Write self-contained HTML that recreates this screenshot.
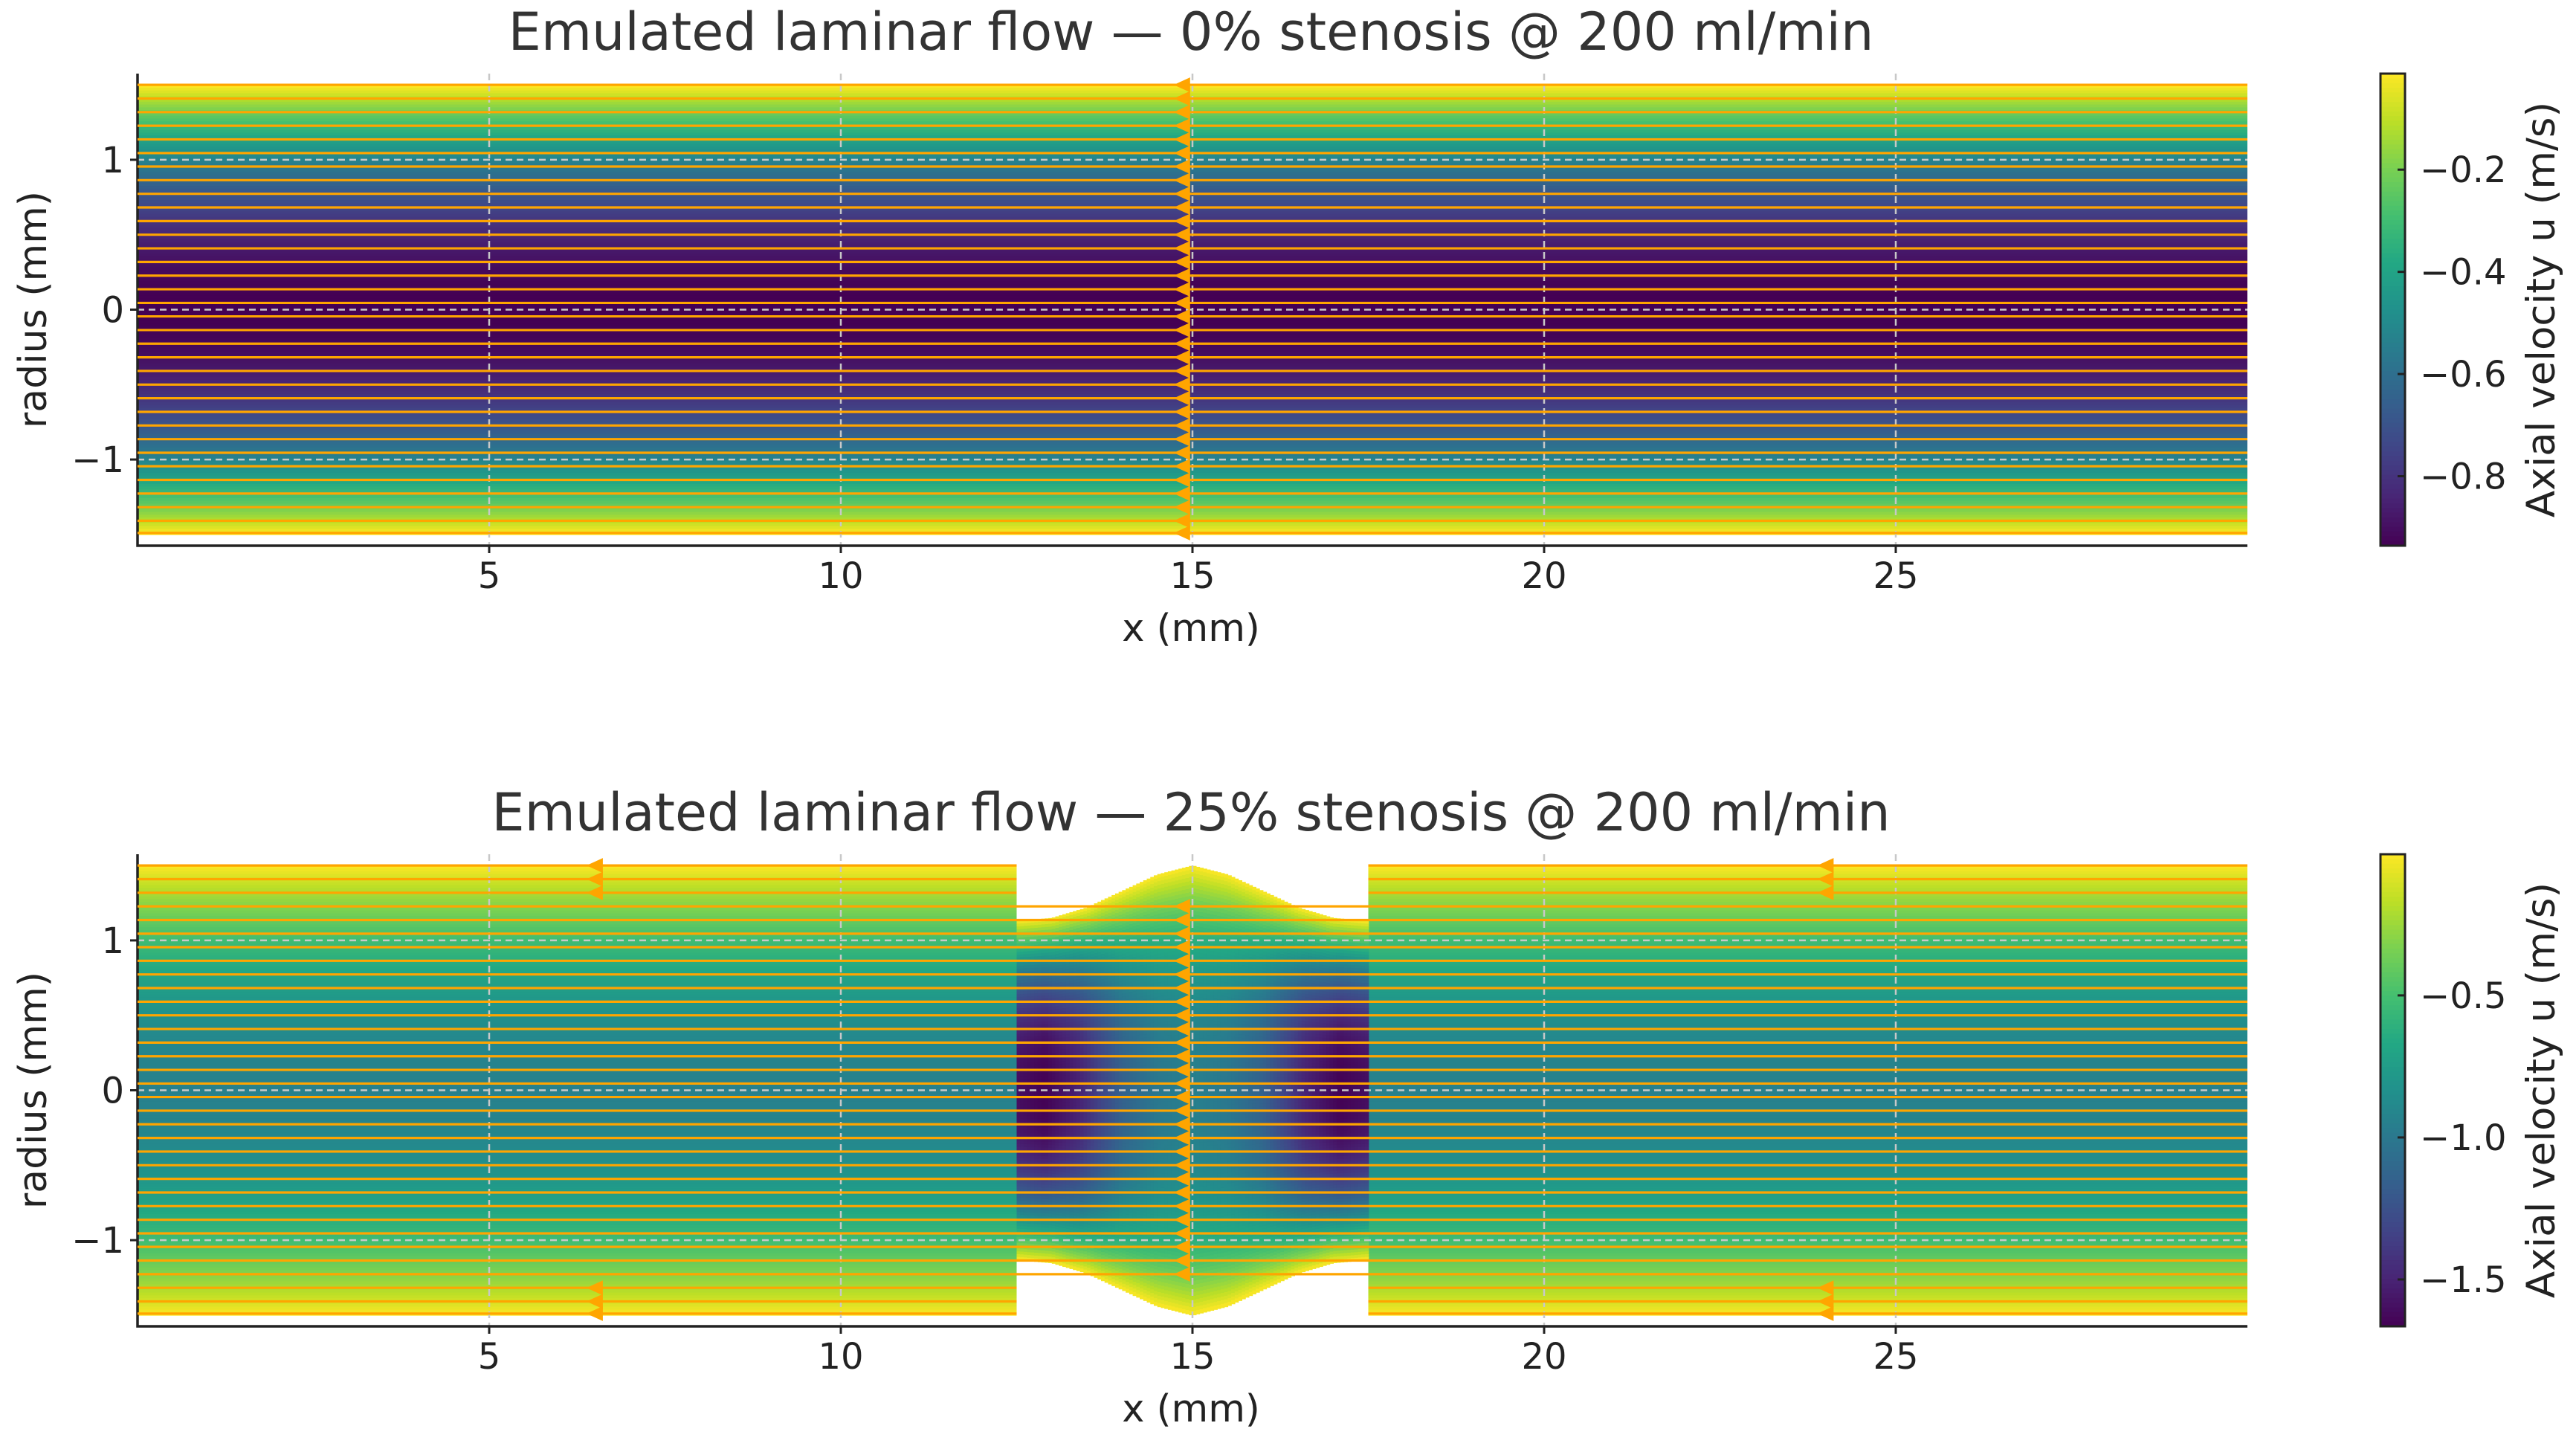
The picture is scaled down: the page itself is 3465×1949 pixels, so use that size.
<!DOCTYPE html>
<html><head><meta charset="utf-8"><style>
html,body{margin:0;padding:0;background:#fff;}
svg{display:block;font-family:"DejaVu Sans","Liberation Sans",sans-serif;}
</style></head><body>
<svg id="fig" width="3465" height="1949" viewBox="0 0 3465 1949" xmlns="http://www.w3.org/2000/svg">
<rect width="3465" height="1949" fill="#fff"/>
<g id="top"></g>
<g id="bot"></g>
</svg>
<script>
// ---- data ----
const xTicks = [5, 10, 15, 20, 25];
const yTicks = [-1, 0, 1];
const streamRadii = [1.5,1.409,1.318,1.227,1.136,1.045,0.955,0.864,0.773,0.682,0.591,0.5,0.409,0.318,0.227,0.136,0.045,-0.045,-0.136,-0.227,-0.318,-0.409,-0.5,-0.591,-0.682,-0.773,-0.864,-0.955,-1.045,-1.136,-1.227,-1.318,-1.409,-1.49];
const topTitle = "Emulated laminar flow — 0% stenosis @ 200 ml/min";
const botTitle = "Emulated laminar flow — 25% stenosis @ 200 ml/min";
const vesselRadius = [1.5];
const topUmax = [0.94];
const botUmax = [0.94];
const topCbarRange = [-0.936, -0.012];
const botCbarRange = [-1.665, -0.003];
const topCbarTicks = [-0.2, -0.4, -0.6, -0.8];
const botCbarTicks = [-0.5, -1.0, -1.5];
const topArrowX = [14.85];
const botOuterArrowX = [6.5, 24.0];
const botInnerArrowX = [14.85];
const stenosisStart = [12.5];
const stenosisEnd = [17.5];
const stenX = [12.5, 13.0, 13.5, 14.0, 14.5, 15.0, 15.5, 16.0, 16.5, 17.0, 17.5];
const stenR = [1.13, 1.15, 1.22, 1.33, 1.44, 1.5, 1.44, 1.33, 1.22, 1.15, 1.13];
const ampX = [12.5, 12.9, 13.4, 14.0, 14.5, 15.0, 15.5, 16.0, 16.6, 17.1, 17.5];
const ampU = [1.6, 1.66, 1.5, 1.15, 1.0, 0.95, 1.0, 1.15, 1.5, 1.66, 1.6];
const innerLineLimit = [1.25];

// ---- helpers ----
const NS = "http://www.w3.org/2000/svg";
const VIR = ["#440154","#482475","#414487","#355f8d","#2a788e","#21918c","#22a884","#44bf70","#7ad151","#bddf26","#fde725"];
function hex(c){return [parseInt(c.substr(1,2),16),parseInt(c.substr(3,2),16),parseInt(c.substr(5,2),16)];}
const VIRc = VIR.map(hex);
function viridis(t){t=Math.max(0,Math.min(1,t));const f=t*10;const i=Math.min(9,Math.floor(f));const u=f-i;const a=VIRc[i],b=VIRc[i+1];return "rgb("+a.map((v,k)=>Math.round(v+(b[k]-v)*u)).join(",")+")";}
function interp(xs,ys,x){if(x<=xs[0])return ys[0];for(let i=1;i<xs.length;i++){if(x<=xs[i]){const u=(x-xs[i-1])/(xs[i]-xs[i-1]);return ys[i-1]+(ys[i]-ys[i-1])*u;}}return ys[ys.length-1];}
function el(tag,attrs,parent){const e=document.createElementNS(NS,tag);for(const k in attrs)e.setAttribute(k,attrs[k]);parent.appendChild(e);return e;}
function fmt(v,d){const s=Math.abs(v).toFixed(d);return (v<0?"\u2212":"")+s;}

const L=185,R=3023,XMIN=0,XMAX=30,YLIM=1.575;
function makeAxes(T,B){const sx=x=>L+(x-XMIN)/(XMAX-XMIN)*(R-L);const cy=(T+B)/2;const sy=y=>cy-y/(2*YLIM)*(B-T);return {sx,sy,T,B};}

function drawCommon(g,ax,title,range,ticks){
  xTicks.forEach(t=>{const l=el("line",{x1:ax.sx(t),x2:ax.sx(t),y1:ax.T,y2:ax.B,stroke:"#c8c8c8","stroke-width":2.5,"stroke-dasharray":"9,6"},g);
    
    });
  yTicks.forEach(t=>{const l=el("line",{x1:L,x2:R,y1:ax.sy(t),y2:ax.sy(t),stroke:"#c8c8c8","stroke-width":2.5,"stroke-dasharray":"9,6"},g);
    
    });
  const sp=el("path",{d:`M${L},${ax.T} V${ax.B} H${R}`,fill:"none",stroke:"#222","stroke-width":3.5},g);
  
  
  xTicks.forEach(t=>{el("line",{x1:ax.sx(t),x2:ax.sx(t),y1:ax.B,y2:ax.B+10,stroke:"#222","stroke-width":3},g);
    const tx=el("text",{x:ax.sx(t),y:ax.B+57,"text-anchor":"middle","font-size":48,fill:"#222"},g);tx.textContent=String(t);
    
    });
  yTicks.forEach(t=>{el("line",{x1:L-10,x2:L,y1:ax.sy(t),y2:ax.sy(t),stroke:"#222","stroke-width":3},g);
    const tx=el("text",{x:L-18,y:ax.sy(t)+17,"text-anchor":"end","font-size":48,fill:"#222"},g);tx.textContent=t<0?"\u2212"+Math.abs(t):String(t);
    
    });
  const tt=el("text",{x:1602,y:ax.T-32,"text-anchor":"middle","font-size":70,fill:"#333"},g);tt.textContent=title;
  
  
  const xl=el("text",{x:1602,y:ax.B+128,"text-anchor":"middle","font-size":51,fill:"#222"},g);xl.textContent="x (mm)";
  
  
  const cy=(ax.T+ax.B)/2;
  const yl=el("text",{x:0,y:0,"text-anchor":"middle","font-size":52,fill:"#222",transform:`translate(62,${cy}) rotate(-90)`},g);yl.textContent="radius (mm)";
  
  
  const CX=3202,CW=33;const cg=el("g",{},g);
  
  
  const N=100,h=(ax.B-ax.T)/N;
  for(let i=0;i<N;i++){el("rect",{x:CX,y:ax.T+i*h,width:CW,height:h+0.8,fill:viridis(1-(i+0.5)/N)},cg);}
  el("rect",{x:CX,y:ax.T,width:CW,height:ax.B-ax.T,fill:"none",stroke:"#222","stroke-width":3},cg);
  const cbY=v=>ax.B-(v-range[0])/(range[1]-range[0])*(ax.B-ax.T);
  ticks.forEach(v=>{el("line",{x1:CX+CW-10,x2:CX+CW,y1:cbY(v),y2:cbY(v),stroke:"#222","stroke-width":3},cg);
    const tx=el("text",{x:CX+CW+20,y:cbY(v)+17,"font-size":48,fill:"#222"},cg);tx.textContent=fmt(v,1);
    
    });
  const cl=el("text",{x:0,y:0,"text-anchor":"middle","font-size":53,fill:"#222",transform:`translate(3436,${cy}) rotate(-90)`},cg);cl.textContent="Axial velocity u (m/s)";
  
  
}
function arrow(g,ax,x,r){const px=ax.sx(x),py=ax.sy(r);
  const a=el("polygon",{points:`${px-11},${py} ${px+11},${py-10} ${px+11},${py+10}`,fill:"#ffa500"},g);
  
  }

// ---- top panel ----
(function(){
  const g=document.getElementById("top");const ax=makeAxes(99,734);const Rv=vesselRadius[0];
  const field=el("g",{},g);
  
  
  const N=160;const dr=2*Rv/N;
  for(let i=0;i<N;i++){const r=Rv-(i+0.5)*dr;const u=-topUmax[0]*(1-(r/Rv)*(r/Rv));
    const t=(u-topCbarRange[0])/(topCbarRange[1]-topCbarRange[0]);
    el("rect",{x:ax.sx(0),y:ax.sy(Rv-i*dr),width:ax.sx(30)-ax.sx(0),height:ax.sy(0)-ax.sy(dr)+0.8,fill:viridis(t)},field);}
  drawCommon(g,ax,topTitle,topCbarRange,topCbarTicks);
  const sg=el("g",{},g);
  
  
  streamRadii.forEach(r=>{const l=el("line",{x1:ax.sx(0),x2:ax.sx(30),y1:ax.sy(r),y2:ax.sy(r),stroke:"#ffa500","stroke-width":3.2},sg);
    
    });
  streamRadii.forEach(r=>topArrowX.forEach(x=>arrow(sg,ax,x,r)));
})();

// ---- bottom panel ----
(function(){
  const g=document.getElementById("bot");const ax=makeAxes(1149,1784);const Rv=vesselRadius[0];
  const field=el("g",{},g);
  
  
  const rng=botCbarRange;const norm=u=>(u-rng[0])/(rng[1]-rng[0]);
  const N=160;const dr=2*Rv/N;const s0=stenosisStart[0],s1=stenosisEnd[0];
  for(let i=0;i<N;i++){const r=Rv-(i+0.5)*dr;const u=-botUmax[0]*(1-(r/Rv)*(r/Rv));const c=viridis(norm(u));
    const y=ax.sy(Rv-i*dr),h=ax.sy(0)-ax.sy(dr)+0.8;
    el("rect",{x:ax.sx(0),y:y,width:ax.sx(s0)-ax.sx(0),height:h,fill:c},field);
    el("rect",{x:ax.sx(s1),y:y,width:ax.sx(30)-ax.sx(s1),height:h,fill:c},field);}
  const NX=100,dx=(s1-s0)/NX,NR=120;
  for(let j=0;j<NX;j++){const x=s0+(j+0.5)*dx;const Rx=interp(stenX,stenR,x);const A=interp(ampX,ampU,x);
    const d=2*Rx/NR;
    for(let i=0;i<NR;i++){const r=Rx-(i+0.5)*d;const u=-A*(1-Math.pow(Math.abs(r/Rx),2.6));
      el("rect",{x:ax.sx(s0+j*dx),y:ax.sy(Rx-i*d),width:ax.sx(dx)-ax.sx(0)+0.8,height:ax.sy(0)-ax.sy(d)+0.8,fill:viridis(norm(u))},field);}}
  drawCommon(g,ax,botTitle,botCbarRange,botCbarTicks);
  const sg=el("g",{},g);
  
  
  const lim=innerLineLimit[0];
  streamRadii.forEach(r=>{
    if(Math.abs(r)<lim){const l=el("line",{x1:ax.sx(0),x2:ax.sx(30),y1:ax.sy(r),y2:ax.sy(r),stroke:"#ffa500","stroke-width":3.2},sg);
      
      
      botInnerArrowX.forEach(x=>arrow(sg,ax,x,r));}
    else{const a=el("line",{x1:ax.sx(0),x2:ax.sx(s0),y1:ax.sy(r),y2:ax.sy(r),stroke:"#ffa500","stroke-width":3.2},sg);
      
      
      const b=el("line",{x1:ax.sx(s1),x2:ax.sx(30),y1:ax.sy(r),y2:ax.sy(r),stroke:"#ffa500","stroke-width":3.2},sg);
      
      
      botOuterArrowX.forEach(x=>arrow(sg,ax,x,r));}
  });
})();
</script>
</body></html>
